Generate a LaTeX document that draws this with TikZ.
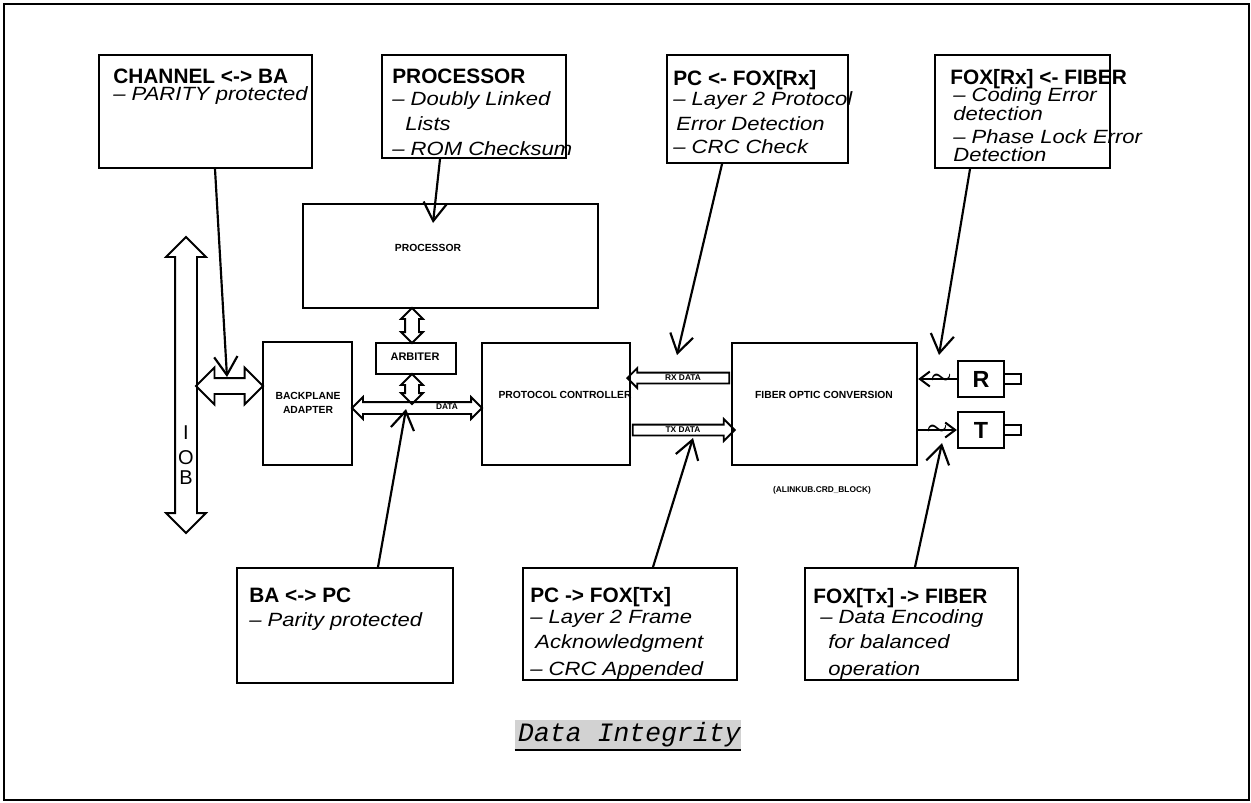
\documentclass[tikz,border=0pt]{standalone}
\usepackage{amsmath}
\usepackage{fontspec}
\setmainfont{Liberation Sans}
\newfontfamily\notefont{Liberation Sans}[FakeStretch=1.15, Ligatures=TeX]
\newfontfamily\capfont{Liberation Mono}[FakeSlant=0.2]
\usetikzlibrary{calc, positioning, shapes, shapes.arrows, arrows.meta, fit}

\tikzset{
  blk/.style={draw, line width=1.4pt, inner sep=0pt},
  note/.style={draw, line width=1.2pt, inner sep=0pt},
  hd/.style={anchor=base west, inner sep=0pt, font=\fontsize{12.5}{14}\selectfont\bfseries},
  ln/.style={anchor=base west, inner sep=0pt, font=\fontsize{11.5}{14}\selectfont\notefont\itshape},
  lbl/.style={inner sep=0pt, font=\fontsize{6.2}{7}\selectfont\bfseries},
  ptr/.style={line width=1.3pt, -{Straight Barb[length=11pt,width=14pt]}},
  pin/.style={line width=1.2pt, -{Straight Barb[length=6pt,width=9pt]}},
  dbl/.style={double arrow, draw, line width=1.1pt, inner xsep=0pt, minimum width=0pt},
  sgl/.style={single arrow, draw, line width=1.1pt, inner xsep=0pt, minimum width=0pt},
}

\begin{document}
\begin{tikzpicture}[x=0.6pt, y=-0.6pt]
\useasboundingbox (0,0) rectangle (1251,802);
\draw[line width=1.2pt] (4,4) rectangle (1248.5,799.5);

% blocks
\node[blk, fit={(303,204) (598,308)}] (proc) {};
\node[blk, fit={(376,343) (456,374)}] (arb) {};
\node[blk, fit={(263,342) (352,465)}] (ba) {};
\node[blk, fit={(482,343) (630,465)}] (pc) {};
\node[blk, fit={(732,343) (917,465)}] (foc) {};
\node[blk, fit={(958,361) (1004,397)}] (rbox) {};
\node[blk, fit={(958,412) (1004,448)}] (tbox) {};
\node[blk, fit={(1004,374) (1021,384)}] (rstub) {};
\node[blk, fit={(1004,425) (1021,435)}] (tstub) {};

\node[lbl] (proc-t) at (428,248) {PROCESSOR};
\node[lbl, font=\fontsize{6.6}{7}\selectfont\bfseries] (arb-t) at (415,357) {ARBITER};
\node[lbl, align=center] (ba-t) at (308,403) {BACKPLANE\\[1pt] ADAPTER};
\node[lbl] (pc-t) at (565,395) {PROTOCOL CONTROLLER};
\node[lbl] (foc-t) at (824,395) {FIBER OPTIC CONVERSION};
\node[font=\fontsize{14}{14}\selectfont\bfseries] (r-t) at (rbox) {R};
\node[font=\fontsize{14}{14}\selectfont\bfseries] (t-t) at (tbox) {T};
\node[lbl, font=\fontsize{5}{6}\selectfont\bfseries] (blk-id) at (822,490) {(ALINKUB.CRD\_BLOCK)};

% buses
\node[dbl, rotate=90, minimum height=177.6pt, inner ysep=6pt,
      double arrow head extend=5.4pt] (iob) at (186,385) {};
\foreach \l/\y in {I/433,O/458,B/478}
  \node[font=\fontsize{12}{12}\selectfont] (iob-\l) at (186,\y) {\l};
\node[dbl, minimum height=40.2pt, inner ysep=4.2pt,
      double arrow head extend=6.3pt] (iob-ba) at (229.5,386) {};
\node[dbl, minimum height=78pt, inner ysep=3pt,
      double arrow head extend=3pt] (bus) at (417,408) {};
\node[dbl, rotate=90, minimum height=21pt, inner ysep=3.6pt,
      double arrow head extend=2.4pt] (proc-arb) at (412,325.5) {};
\node[dbl, rotate=90, minimum height=18pt, inner ysep=3.6pt,
      double arrow head extend=2.4pt] (arb-bus) at (412,389) {};
\node[sgl, rotate=180, minimum height=61.2pt, inner ysep=2.7pt,
      single arrow head extend=2.7pt] (rx) at (681,378) {};
\node[sgl, minimum height=61.2pt, inner ysep=2.7pt,
      single arrow head extend=3.3pt] (tx) at (681,430) {};
\node[lbl, font=\fontsize{5}{6}\selectfont\bfseries] (bus-t) at (447,407) {DATA};
\node[lbl, font=\fontsize{5}{6}\selectfont\bfseries] (rx-t) at (683,378) {RX DATA};
\node[lbl, font=\fontsize{5}{6}\selectfont\bfseries] (tx-t) at (683,430) {TX DATA};

% fiber connectors
\draw[pin] (rbox.west) -- (foc.east |- rbox.west)
  node[pos=0.41, font=\fontsize{14}{14}\selectfont] {$\boldsymbol{\sim}$};
\draw[pin] (foc.east |- tbox.west) -- (tbox.west)
  node[pos=0.49, font=\fontsize{14}{14}\selectfont] {$\boldsymbol{\sim}$};

% notes, top row
\node[note, fit={(99,55) (312,168)}] (chba) {};
\node[hd] (chba-1) at (113,83) {CHANNEL <-> BA};
\node[ln] (chba-2) at (113,100) {-- PARITY protected};

\node[note, fit={(382,55) (566,158)}] (procn) {};
\node[hd] (procn-1) at (392,83) {PROCESSOR};
\node[ln] (procn-2) at (392,105) {-- Doubly Linked};
\node[ln] (procn-3) at (405,130) {Lists};
\node[ln] (procn-4) at (392,155) {-- ROM Checksum};

\node[note, fit={(667,55) (848,163)}] (pcrx) {};
\node[hd] (pcrx-1) at (673,85) {PC <- FOX[Rx]};
\node[ln] (pcrx-2) at (673,105) {-- Layer 2 Protocol};
\node[ln] (pcrx-3) at (676,130) {Error Detection};
\node[ln] (pcrx-4) at (673,153) {-- CRC Check};

\node[note, fit={(935,55) (1110,168)}] (foxrx) {};
\node[hd] (foxrx-1) at (950,84) {FOX[Rx] <- FIBER};
\node[ln] (foxrx-2) at (953,101) {-- Coding Error};
\node[ln] (foxrx-3) at (953,120) {detection};
\node[ln] (foxrx-4) at (953,143) {-- Phase Lock Error};
\node[ln] (foxrx-5) at (953,161) {Detection};

% notes, bottom row
\node[note, fit={(237,568) (453,683)}] (bapc) {};
\node[hd] (bapc-1) at (249,602) {BA <-> PC};
\node[ln] (bapc-2) at (249,626) {-- Parity protected};

\node[note, fit={(523,568) (737,680)}] (pctx) {};
\node[hd] (pctx-1) at (530,602) {PC -> FOX[Tx]};
\node[ln] (pctx-2) at (530,623) {-- Layer 2 Frame};
\node[ln] (pctx-3) at (535,648) {Acknowledgment};
\node[ln] (pctx-4) at (530,675) {-- CRC Appended};

\node[note, fit={(805,568) (1018,680)}] (foxtx) {};
\node[hd] (foxtx-1) at (813,603) {FOX[Tx] -> FIBER};
\node[ln] (foxtx-2) at (820,623) {-- Data Encoding};
\node[ln] (foxtx-3) at (828,648) {for balanced};
\node[ln] (foxtx-4) at (828,675) {operation};

% pointers
\coordinate (tip-chba) at (227,377);
\coordinate (tip-procn) at (433,223);
\coordinate (tip-pcrx) at (677,355);
\coordinate (tip-foxrx) at (939,355);
\coordinate (tip-bapc) at (406,409);
\coordinate (tip-pctx) at (693,438);
\coordinate (tip-foxtx) at (942,443);
\draw[ptr] ($(chba.south)+(9.5,0)$) -- (tip-chba);
\draw[ptr] ($(procn.south)+(-34,0)$) -- (tip-procn);
\draw[ptr] ($(pcrx.south)+(-35.5,0)$) -- (tip-pcrx);
\draw[ptr] ($(foxrx.south)+(-52.5,0)$) -- (tip-foxrx);
\draw[ptr] ($(bapc.north)+(33,0)$) -- (tip-bapc);
\draw[ptr] ($(pctx.north)+(23,0)$) -- (tip-pctx);
\draw[ptr] ($(foxtx.north)+(3.5,0)$) -- (tip-foxtx);

% caption
\node[font=\fontsize{15.9}{16}\selectfont\capfont, fill=gray!35,
      inner xsep=1pt, inner ysep=1.5pt] (cap) at (628,735) {Data Integrity};
\draw[line width=1pt] (cap.south west) -- (cap.south east);
\end{tikzpicture}
\end{document}
